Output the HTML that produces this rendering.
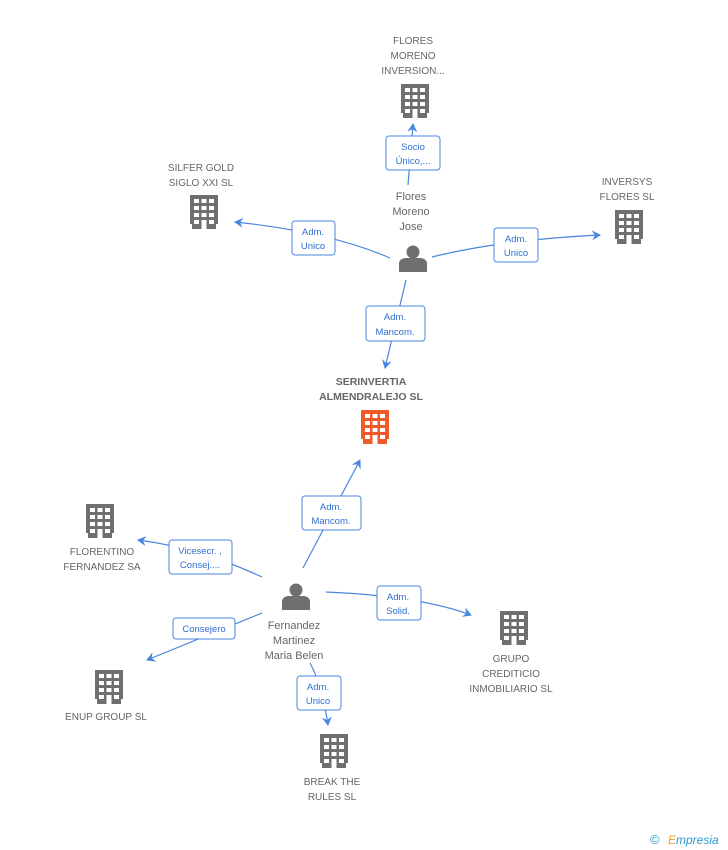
<!DOCTYPE html>
<html><head><style>
body{margin:0;background:#fff;}
svg{display:block;font-family:"Liberation Sans",sans-serif;}
.l{font-size:10px;fill:#666;text-anchor:middle;}
.b{font-size:9.5px;fill:#2f6fd0;text-anchor:middle;}
.e{stroke:#4a86e0;stroke-width:1.2;fill:none;}
.bx{fill:#fff;stroke:#4a86e0;stroke-width:1;}
</style></head><body>
<svg width="728" height="850" viewBox="0 0 728 850">
<defs>
<g id="bd">
<rect x="-14" y="-17" width="28" height="34" fill="currentColor"/>
<g fill="#fff">
<rect x="-10" y="-13" width="5" height="4"/><rect x="-2.5" y="-13" width="5" height="4"/><rect x="5" y="-13" width="5" height="4"/>
<rect x="-10" y="-6" width="5" height="4"/><rect x="-2.5" y="-6" width="5" height="4"/><rect x="5" y="-6" width="5" height="4"/>
<rect x="-10" y="1" width="5" height="4"/><rect x="-2.5" y="1" width="5" height="4"/><rect x="5" y="1" width="5" height="4"/>
<rect x="-10" y="8" width="5" height="4"/><rect x="5" y="8" width="5" height="4"/>
<rect x="-2.5" y="8" width="5" height="9"/>
<rect x="-14" y="12" width="2" height="5"/><rect x="12" y="12" width="2" height="5"/>
</g></g>
<g id="ps" fill="#6f6f6f">
<circle cx="0" cy="-6" r="6.5"/>
<path d="M-14,14 L-14,6 Q-14,1 -8,0 L8,0 Q14,1 14,6 L14,14 Z"/>
</g>
<marker id="ar" markerWidth="10" markerHeight="10" refX="8" refY="5" orient="auto" markerUnits="userSpaceOnUse"><path d="M0,0 L9,5 L0,10 L3,5 Z" fill="#4a86e0"/></marker>
</defs>

<!-- edges -->
<path class="e" d="M408,185 L413,124" marker-end="url(#ar)"/>
<path class="e" d="M390,258 Q330,232 235,222" marker-end="url(#ar)"/>
<path class="e" d="M432,257 Q500,240 600,235" marker-end="url(#ar)"/>
<path class="e" d="M406,280 L385,368" marker-end="url(#ar)"/>
<path class="e" d="M303,568 L360,460" marker-end="url(#ar)"/>
<path class="e" d="M262,577 Q200,548 138,540" marker-end="url(#ar)"/>
<path class="e" d="M262,613 L147,660" marker-end="url(#ar)"/>
<path class="e" d="M326,592 Q420,596 471,615" marker-end="url(#ar)"/>
<path class="e" d="M310,663 Q322,685 328,725" marker-end="url(#ar)"/>

<!-- boxes -->
<rect class="bx" x="386" y="136" width="54" height="34" rx="3"/><text class="b" x="413" y="150">Socio</text><text class="b" x="413" y="164">Único,...</text>
<rect class="bx" x="292" y="221" width="43" height="34" rx="3"/><text class="b" x="313" y="235">Adm.</text><text class="b" x="313" y="249">Unico</text>
<rect class="bx" x="494" y="228" width="44" height="34" rx="3"/><text class="b" x="516" y="242">Adm.</text><text class="b" x="516" y="256">Unico</text>
<rect class="bx" x="366" y="306" width="59" height="35" rx="3"/><text class="b" x="395" y="320">Adm.</text><text class="b" x="395" y="335">Mancom.</text>
<rect class="bx" x="302" y="496" width="59" height="34" rx="3"/><text class="b" x="331" y="510">Adm.</text><text class="b" x="331" y="524">Mancom.</text>
<rect class="bx" x="169" y="540" width="63" height="34" rx="3"/><text class="b" x="200" y="554">Vicesecr. ,</text><text class="b" x="200" y="568">Consej....</text>
<rect class="bx" x="173" y="618" width="62" height="21" rx="3"/><text class="b" x="204" y="632">Consejero</text>
<rect class="bx" x="377" y="586" width="44" height="34" rx="3"/><text class="b" x="398" y="600">Adm.</text><text class="b" x="398" y="614">Solid.</text>
<rect class="bx" x="297" y="676" width="44" height="34" rx="3"/><text class="b" x="318" y="690">Adm.</text><text class="b" x="318" y="704">Unico</text>

<!-- buildings -->
<use href="#bd" x="415" y="101" style="color:#6f6f6f"/>
<use href="#bd" x="204" y="212" style="color:#6f6f6f"/>
<use href="#bd" x="629" y="227" style="color:#6f6f6f"/>
<use href="#bd" x="375" y="427" style="color:#f05a28"/>
<use href="#bd" x="100" y="521" style="color:#6f6f6f"/>
<use href="#bd" x="109" y="687" style="color:#6f6f6f"/>
<use href="#bd" x="514" y="628" style="color:#6f6f6f"/>
<use href="#bd" x="334" y="751" style="color:#6f6f6f"/>

<use href="#ps" x="413" y="258"/>
<use href="#ps" x="296" y="596"/>

<!-- labels -->
<text class="l" x="413" y="44">FLORES</text><text class="l" x="413" y="59">MORENO</text><text class="l" x="413" y="74">INVERSION...</text>
<text class="l" x="201" y="171">SILFER GOLD</text><text class="l" x="201" y="186">SIGLO XXI SL</text>
<text class="l" x="627" y="185">INVERSYS</text><text class="l" x="627" y="200">FLORES SL</text>
<text class="l" x="411" y="200" style="font-size:11px">Flores</text><text class="l" x="411" y="215" style="font-size:11px">Moreno</text><text class="l" x="411" y="230" style="font-size:11px">Jose</text>
<text class="l" x="371" y="385" style="font-weight:bold;font-size:10.5px">SERINVERTIA</text><text class="l" x="371" y="400" style="font-weight:bold;font-size:10.5px">ALMENDRALEJO SL</text>
<text class="l" x="102" y="555">FLORENTINO</text><text class="l" x="102" y="570">FERNANDEZ SA</text>
<text class="l" x="294" y="629" style="font-size:11px">Fernandez</text><text class="l" x="294" y="644" style="font-size:11px">Martinez</text><text class="l" x="294" y="659" style="font-size:11px">Maria Belen</text>
<text class="l" x="106" y="720">ENUP GROUP SL</text>
<text class="l" x="511" y="662">GRUPO</text><text class="l" x="511" y="677">CREDITICIO</text><text class="l" x="511" y="692">INMOBILIARIO SL</text>
<text class="l" x="332" y="785">BREAK THE</text><text class="l" x="332" y="800">RULES SL</text>

<text x="650" y="844" style="font-size:13px;fill:#2a9bd0">©</text>
<text x="668" y="844" style="font-size:12px;fill:#2a9bd0;font-style:italic"><tspan fill="#f0a020">E</tspan>mpresia</text>
</svg>
</body></html>
